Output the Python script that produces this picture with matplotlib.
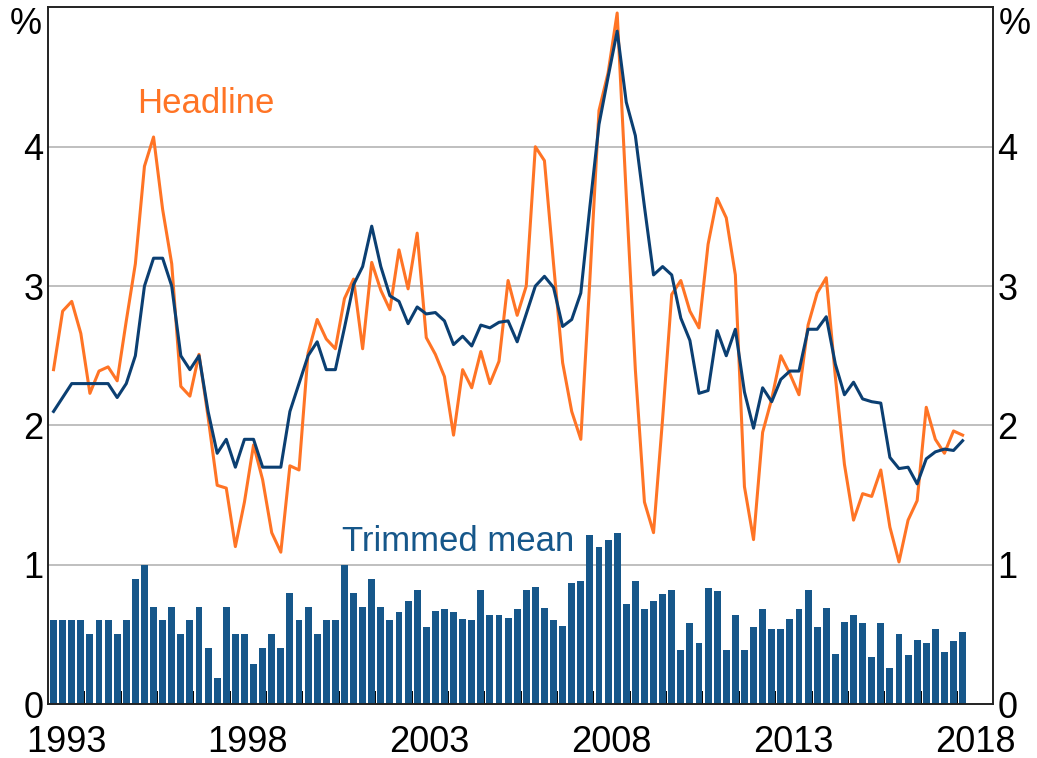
import matplotlib
matplotlib.use("Agg")
import matplotlib.pyplot as plt
import numpy as np

plt.rcParams['font.family'] = ['Liberation Sans', 'DejaVu Sans']

# quarterly data, March 1993 to March 2018
start_year = 1993
headline = [2.40, 2.82, 2.89, 2.66, 2.23, 2.39, 2.42, 2.32, 2.75, 3.16,
            3.86, 4.07, 3.55, 3.16, 2.28, 2.21, 2.51, 2.06, 1.57, 1.55,
            1.13, 1.45, 1.86, 1.61, 1.23, 1.09, 1.71, 1.68, 2.52, 2.76,
            2.62, 2.55, 2.91, 3.05, 2.55, 3.17, 2.97, 2.83, 3.26, 2.98,
            3.38, 2.63, 2.51, 2.35, 1.93, 2.40, 2.27, 2.53, 2.30, 2.46,
            3.04, 2.79, 3.00, 4.00, 3.90, 3.16, 2.45, 2.10, 1.90, 3.05,
            4.26, 4.53, 4.96, 3.65, 2.40, 1.45, 1.23, 2.05, 2.94, 3.04,
            2.82, 2.70, 3.30, 3.63, 3.49, 3.08, 1.56, 1.18, 1.95, 2.19,
            2.50, 2.37, 2.22, 2.72, 2.95, 3.06, 2.35, 1.72, 1.32, 1.51,
            1.49, 1.68, 1.27, 1.02, 1.32, 1.46, 2.13, 1.90, 1.80, 1.96,
            1.93]
trimmed_ye = [2.10, 2.20, 2.30, 2.30, 2.30, 2.30, 2.30, 2.20, 2.30, 2.50,
              3.00, 3.20, 3.20, 3.00, 2.50, 2.40, 2.50, 2.10, 1.80, 1.90,
              1.70, 1.90, 1.90, 1.70, 1.70, 1.70, 2.10, 2.30, 2.50, 2.60,
              2.40, 2.40, 2.70, 3.01, 3.14, 3.43, 3.14, 2.93, 2.89, 2.73,
              2.85, 2.80, 2.81, 2.75, 2.58, 2.64, 2.57, 2.72, 2.70, 2.74,
              2.75, 2.60, 2.80, 3.00, 3.07, 2.99, 2.71, 2.76, 2.95, 3.57,
              4.16, 4.50, 4.83, 4.32, 4.08, 3.57, 3.08, 3.14, 3.08, 2.77,
              2.61, 2.23, 2.25, 2.68, 2.50, 2.69, 2.24, 1.98, 2.27, 2.17,
              2.33, 2.39, 2.39, 2.69, 2.69, 2.78, 2.44, 2.22, 2.31, 2.19,
              2.17, 2.16, 1.77, 1.69, 1.70, 1.58, 1.76, 1.81, 1.83, 1.82,
              1.89]
trimmed_q = [0.60, 0.60, 0.60, 0.60, 0.50, 0.60, 0.60, 0.50, 0.60, 0.90,
             1.00, 0.70, 0.60, 0.70, 0.50, 0.60, 0.70, 0.40, 0.19, 0.70,
             0.50, 0.50, 0.29, 0.40, 0.50, 0.40, 0.80, 0.60, 0.70, 0.50,
             0.60, 0.60, 1.00, 0.80, 0.70, 0.90, 0.70, 0.60, 0.66, 0.74,
             0.82, 0.55, 0.67, 0.68, 0.66, 0.61, 0.60, 0.82, 0.64, 0.64,
             0.62, 0.68, 0.82, 0.84, 0.69, 0.60, 0.56, 0.87, 0.88, 1.21,
             1.13, 1.18, 1.23, 0.72, 0.88, 0.68, 0.74, 0.79, 0.82, 0.39,
             0.58, 0.44, 0.83, 0.81, 0.39, 0.64, 0.39, 0.55, 0.68, 0.54,
             0.54, 0.61, 0.68, 0.82, 0.55, 0.69, 0.36, 0.59, 0.64, 0.58,
             0.34, 0.58, 0.26, 0.50, 0.35, 0.46, 0.44, 0.54, 0.37, 0.45,
             0.52]
year_labels = ['1993', '1998', '2003', '2008', '2013', '2018']

orange = '#FF7425'
navy = '#0B3F72'
bar_blue = '#16578A'

x = start_year + 0.155 + 0.25 * np.arange(len(headline))

fig = plt.figure(figsize=(10.37, 7.58), dpi=100)
ax = fig.add_axes([0.0462, 0.0712, 0.9117, 0.919])

ax.bar(x, trimmed_q, width=0.19, color=bar_blue, zorder=2)
ax.plot(x, headline, color=orange, lw=2.2, zorder=3)
ax.plot(x, trimmed_ye, color=navy, lw=2.2, zorder=4)

ax.set_xlim(1993, 2019)
ax.set_ylim(0, 5)

# gridlines
for v in [1, 2, 3, 4]:
    ax.axhline(v, color='#B4B4B4', lw=1.2, zorder=1)

ax.set_yticks([0, 1, 2, 3, 4])
ax.set_yticklabels(['0', '1', '2', '3', '4'])
ax.tick_params(axis='y', length=0, labelsize=26, pad=3,
               left=False, right=False, labelleft=True, labelright=True)

# year ticks on boundaries, labels in the middle of the year
ax.set_xticks(np.arange(1994, 2019))
ax.set_xticklabels([])
ax.tick_params(axis='x', which='major', direction='in', length=9.5,
               width=1.4, color='black')
ax.set_xticks([int(s) + 0.5 for s in year_labels], minor=True)
ax.set_xticklabels(year_labels, minor=True)
ax.tick_params(axis='x', which='minor', length=0, labelsize=26, pad=15)

for s in ax.spines.values():
    s.set_linewidth(1.4)
    s.set_color('#222222')

ax.text(-0.006, 0.975, '%', transform=ax.transAxes, ha='right', va='center',
        fontsize=26)
ax.text(1.006, 0.975, '%', transform=ax.transAxes, ha='left', va='center',
        fontsize=26)

ax.text(1995.45, 4.31, 'Headline', color=orange, fontsize=25, va='center')
ax.text(2001.1, 1.17, 'Trimmed mean', color=bar_blue, fontsize=25,
        va='center')

fig.savefig('out.png', dpi=100)
